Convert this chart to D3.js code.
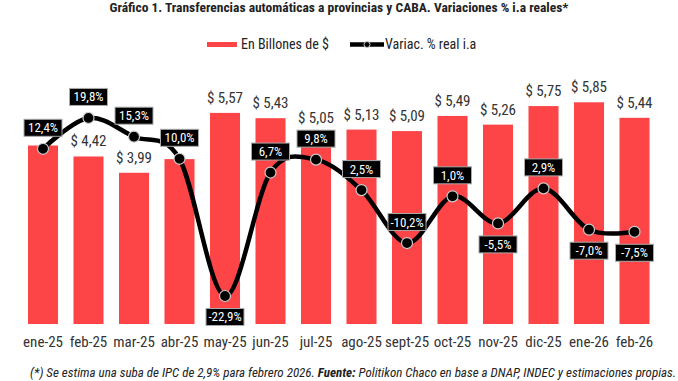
<!DOCTYPE html>
<html><head><meta charset="utf-8">
<script src="https://cdn.jsdelivr.net/npm/d3@7"></script>
<style>
html,body{margin:0;padding:0;background:#fff;}
svg{display:block;font-family:"Roboto Condensed","Liberation Sans Narrow",sans-serif;}
</style></head><body>
<svg id="c" width="678" height="381"></svg>
<script>
const categories = ["ene-25","feb-25","mar-25","abr-25","may-25","jun-25","jul-25","ago-25","sept-25","oct-25","nov-25","dic-25","ene-26","feb-26"];
const billones = [4.71,4.42,3.99,4.35,5.57,5.43,5.05,5.13,5.09,5.49,5.26,5.75,5.85,5.44];
const variacion = [12.4,19.8,15.3,10.0,-22.9,6.7,9.8,2.5,-10.2,1.0,-5.5,2.9,-7.0,-7.5];
const labelSide = ["up","up","up","up","down","up","up","up","up","up","down","up","down","down"];
const title = "Gráfico 1. Transferencias automáticas a provincias y CABA. Variaciones % i.a reales*";
const legendBar = "En Billones de $";
const legendLine = "Variac. % real i.a";

const FONT = '"Roboto Condensed","Liberation Sans Narrow",sans-serif';
const svg = d3.select("#c");
const RED = "#fd4447";
const fmt = v => v.toFixed(2).replace(".", ",");
const fmtP = v => v.toFixed(1).replace(".", ",") + "%";

const x = d3.scaleBand().domain(categories).range([20.25, 657.25]).paddingInner(0.34).paddingOuter(0.17);
const y = d3.scaleLinear().domain([0, 6]).range([324, 96.6]);
const y2 = d3.scaleLinear().domain([-30, 25]).range([325.6, 96.25]);

// title
svg.append("text").attr("x", 339).attr("y", 12).attr("text-anchor", "middle")
  .attr("font-size", 13.5).attr("font-weight", "bold").attr("fill", "#222").text(title);

// legend
svg.append("rect").attr("x", 207).attr("y", 42).attr("width", 30).attr("height", 5).attr("fill", RED);
svg.append("text").attr("x", 241).attr("y", 49).attr("font-size", 14).attr("fill", "#222").text(legendBar);
svg.append("line").attr("x1", 350).attr("x2", 384).attr("y1", 44.5).attr("y2", 44.5).attr("stroke", "#000").attr("stroke-width", 4.5);
svg.append("circle").attr("cx", 367).attr("cy", 44.5).attr("r", 3).attr("fill", "#000").attr("stroke", "#ccc").attr("stroke-width", 1);
svg.append("text").attr("x", 385).attr("y", 49).attr("font-size", 14).attr("fill", "#222").text(legendLine);

// bars
svg.append("g").selectAll("rect").data(categories).join("rect")
  .attr("x", d => x(d)).attr("width", x.bandwidth())
  .attr("y", (d, i) => y(billones[i])).attr("height", (d, i) => y(0) - y(billones[i]))
  .attr("fill", RED);

// x axis labels
const xAxis = d3.axisBottom(x).tickSize(0).tickPadding(0);
const gx = svg.append("g").attr("transform", "translate(0,334)").call(xAxis);
gx.select(".domain").remove();
gx.attr("font-family", FONT);
gx.selectAll("text").attr("font-size", 15).attr("fill", "#333").attr("dy", "0.85em");

// line points and label boxes
const pts = categories.map((c, i) => [x(c) + x.bandwidth() / 2, y2(variacion[i])]);
const boxW = 38, boxH = 17;
const boxes = pts.map((p, i) => {
  const cy = p[1] + (labelSide[i] === "up" ? -21 : 21);
  return {x0: p[0] - boxW / 2, x1: p[0] + boxW / 2, y0: cy - boxH / 2, y1: cy + boxH / 2, cx: p[0], cy};
});

// bar labels (hidden where a variation box sits over them, as in the original)
const barLab = categories.map((c, i) => {
  const cx = x(c) + x.bandwidth() / 2, by = y(billones[i]) - 10;
  return {cx, by, x0: cx - 18, x1: cx + 18, y0: by - 11, y1: by, t: "$ " + fmt(billones[i])};
}).filter(b => !boxes.some(r => r.x0 < b.x1 && r.x1 > b.x0 && r.y0 < b.y1 && r.y1 > b.y0));
svg.append("g").selectAll("text").data(barLab).join("text")
  .attr("x", d => d.cx).attr("y", d => d.by)
  .attr("text-anchor", "middle").attr("font-size", 15).attr("fill", "#333")
  .text(d => d.t);

// line
svg.append("path").attr("d", d3.line().curve(d3.curveCardinal.tension(0))(pts))
  .attr("fill", "none").attr("stroke", "#000").attr("stroke-width", 4.5);
svg.append("g").selectAll("circle").data(pts).join("circle")
  .attr("cx", d => d[0]).attr("cy", d => d[1]).attr("r", 5.5)
  .attr("fill", "#000").attr("stroke", "#ccc").attr("stroke-width", 1.2);

// line labels
const lg = svg.append("g").selectAll("g").data(boxes).join("g")
  .attr("transform", d => `translate(${d.cx},${d.cy})`);
lg.append("rect").attr("x", -boxW / 2).attr("y", -boxH / 2).attr("width", boxW).attr("height", boxH)
  .attr("fill", "#000").attr("stroke", "#aaa").attr("stroke-width", 1);
lg.append("text").attr("text-anchor", "middle").attr("y", 4.5).attr("font-size", 13)
  .attr("fill", "#fff").text((d, i) => fmtP(variacion[i]));

// footnote
const fn = svg.append("text").attr("x", 30).attr("y", 377).attr("font-size", 13).attr("font-style", "italic").attr("fill", "#222");
fn.append("tspan").text("(*) Se estima una suba de IPC de 2,9% para febrero 2026. ");
fn.append("tspan").attr("font-weight", "bold").text("Fuente:");
fn.append("tspan").text(" Politikon Chaco en base a DNAP, INDEC y estimaciones propias.");
</script></body></html>
